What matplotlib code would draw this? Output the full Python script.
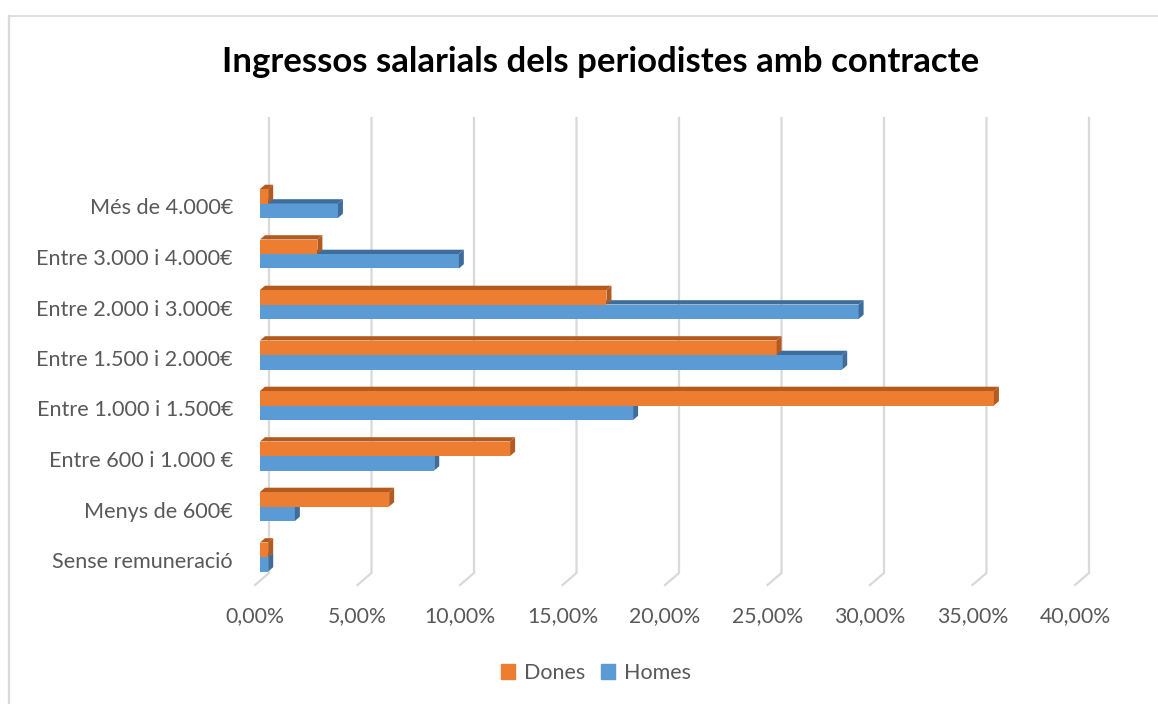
import matplotlib.pyplot as plt
from matplotlib.patches import Polygon, Patch
from matplotlib.lines import Line2D

categories = ["Sense remuneració", "Menys de 600€", "Entre 600 i 1.000 €",
              "Entre 1.000 i 1.500€", "Entre 1.500 i 2.000€", "Entre 2.000 i 3.000€",
              "Entre 3.000 i 4.000€", "Més de 4.000€"]
dones = [0.4, 6.3, 12.2, 35.8, 25.2, 16.9, 2.8, 0.4]
homes = [0.4, 1.7, 8.5, 18.2, 28.4, 29.2, 9.7, 3.8]
xticks = [0, 5, 10, 15, 20, 25, 30, 35, 40]

c_dones, c_dones_dk = "#ED7D31", "#B35A1F"
c_homes, c_homes_dk = "#5B9BD5", "#3E6D9C"
grid_c = "#D9D9D9"
txt_c = "#595959"

plt.rcParams['font.family'] = ['Lato', 'DejaVu Sans']

W, H = 1158, 704
fig = plt.figure(figsize=(W / 100, H / 100), dpi=100)

# pixel geometry
px_x = 20.5      # pixels per 1%
px_y = 50.5      # pixels per category
x0_pix = 255     # 0% on the front edge of the floor
ax_l, ax_r, ax_b, ax_t = 240, 1130, 585, 100
ylab0 = 560      # pixel row of first category label

ax = fig.add_axes([ax_l / W, (H - ax_b) / H, (ax_r - ax_l) / W, (ax_b - ax_t) / H])
ax.set_xlim(-(x0_pix - ax_l) / px_x, (ax_r - x0_pix) / px_x)
ax.set_ylim((ylab0 - ax_b) / px_y, (ylab0 - ax_t) / px_y)
for s in ax.spines.values():
    s.set_visible(False)

# floor depth and bar depth (in data units)
fdx, fdy = 14 / px_x, 12 / px_y
bdx, bdy = 5 / px_x, 4.3 / px_y
y_back_bot = (ylab0 - 573) / px_y
y_back_top = (ylab0 - 118) / px_y
y_front = (ylab0 - ax_b) / px_y

for v in xticks:
    ax.plot([v + fdx, v + fdx, v], [y_back_top, y_back_bot, y_front],
            color=grid_c, lw=1.6, clip_on=False, zorder=1, solid_joinstyle='miter')

h = 14.5 / px_y
off = 3 / px_y
left0 = bdx
ys = [i + off for i in range(len(categories))]


def faces(x1, yb, yt, dark):
    side = Polygon([(x1, yb), (x1, yt), (x1 + bdx, yt + bdy), (x1 + bdx, yb + bdy)],
                   closed=True, facecolor=dark, edgecolor='none', zorder=3)
    top = Polygon([(left0, yt), (x1, yt), (x1 + bdx, yt + bdy), (left0 + bdx, yt + bdy)],
                  closed=True, facecolor=dark, edgecolor='none', zorder=3)
    ax.add_patch(top)
    ax.add_patch(side)


for y, d, m in zip(ys, dones, homes):
    ax.barh(y - h / 2, m, height=h, left=left0, color=c_homes, zorder=3)
    faces(left0 + m, y - h, y, c_homes_dk)
    ax.barh(y + h / 2, d, height=h, left=left0, color=c_dones, zorder=4)
    p = Polygon([(left0, y + h), (left0 + d, y + h), (left0 + d + bdx, y + h + bdy),
                 (left0 + bdx, y + h + bdy)], closed=True, facecolor=c_dones_dk,
                edgecolor='none', zorder=4)
    ax.add_patch(p)
    s = Polygon([(left0 + d, y), (left0 + d, y + h), (left0 + d + bdx, y + h + bdy),
                 (left0 + d + bdx, y + bdy)], closed=True, facecolor=c_dones_dk,
                edgecolor='none', zorder=4)
    ax.add_patch(s)

ax.set_yticks(range(len(categories)))
ax.set_yticklabels(categories)
ax.set_xticks(xticks)
ax.set_xticklabels([f"{v:.2f}%".replace(".", ",") for v in xticks])
ax.tick_params(axis='both', length=0, labelcolor=txt_c)
ax.tick_params(axis='x', pad=15, labelsize=15.3)
ax.tick_params(axis='y', pad=5, labelsize=15.6)

fig.text(601 / W, 1 - 62 / H, "Ingressos salarials dels periodistes amb contracte",
         ha='center', va='center', fontsize=25, fontweight='bold', color='black')

handles = [Patch(color=c_dones, label="Dones"), Patch(color=c_homes, label="Homes")]
fig.legend(handles=handles, loc='center', bbox_to_anchor=(596 / W, 1 - 673 / H),
           ncol=2, frameon=False, fontsize=15.5, labelcolor=txt_c,
           handlelength=0.65, handleheight=0.65, handletextpad=0.4, columnspacing=0.75)

# chart border (only left and top edges fall inside the image)
fig.add_artist(Line2D([8.5 / W, 8.5 / W], [0, 1 - 15.5 / H], color=grid_c, lw=1.6))
fig.add_artist(Line2D([8.5 / W, 1], [1 - 15.5 / H, 1 - 15.5 / H], color=grid_c, lw=1.2))

fig.savefig("out.png", dpi=100)
plt.close(fig)
